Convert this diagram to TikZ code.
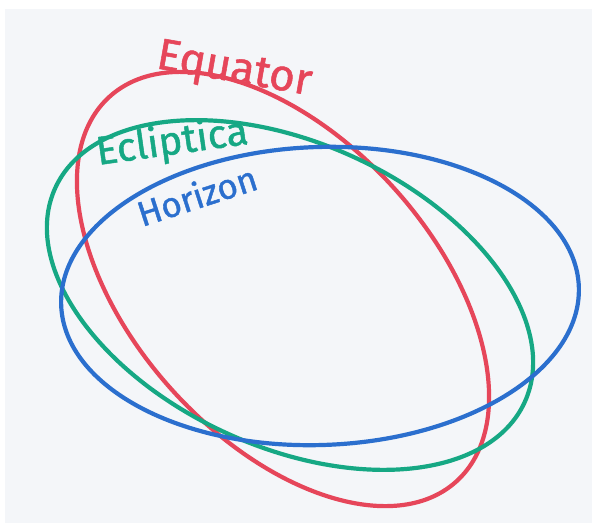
\documentclass[tikz,border=0pt]{standalone}
\usepackage{fontspec}
\setmainfont{Fira Sans}[FakeBold=1.2]
\definecolor{redink}{HTML}{E6465A}
\definecolor{greenink}{HTML}{16A884}
\definecolor{blueink}{HTML}{2B6FCE}
\definecolor{paper}{HTML}{F4F6F9}
\begin{document}
\begin{tikzpicture}[x=1pt,y=-1pt,
  ink/.style={line width=4.2pt},
  lbl/.style={inner sep=0pt, anchor=base west}]
\useasboundingbox (0,0) rectangle (592,523);
\fill[white] (0,0) rectangle (592,523);
\fill[paper] (5,9) rectangle (592,523);
% Equator
\draw[ink, redink, rotate around={-48:(283,289)}] (283,289) ellipse [x radius=259, y radius=150];
% Ecliptica
\draw[ink, greenink, rotate around={-24.5:(290,295)}] (290,295) ellipse [x radius=258, y radius=152];
% Horizon
\draw[ink, blueink, rotate around={2:(320,296)}] (320,296) ellipse [x radius=259, y radius=149];
\node[lbl, text=redink, font=\fontsize{44pt}{44pt}\selectfont, rotate=-10] (eq) at (155,68) {Equator};
\node[lbl, text=greenink, font=\fontsize{40pt}{40pt}\selectfont, rotate=8] (ecl) at (98,165) {Ecliptica};
\node[lbl, text=blueink, font=\fontsize{35pt}{35pt}\selectfont, rotate=18] (hor) at (142,227) {Horizon};
\end{tikzpicture}
\end{document}
